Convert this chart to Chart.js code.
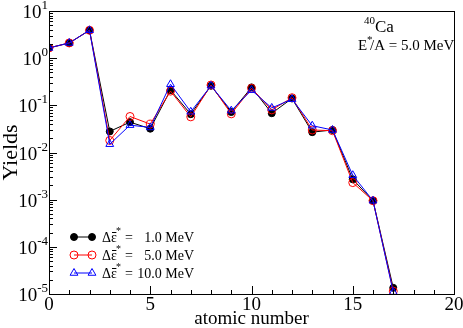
<!DOCTYPE html>
<html>
<head>
<meta charset="utf-8">
<script src="https://cdn.jsdelivr.net/npm/chart.js@4/dist/chart.umd.min.js"></script>
<style>
html, body { margin: 0; padding: 0; background: #fff; }
</style>
</head>
<body>
<canvas id="chartYields" width="463" height="328"></canvas>
<script>
// data
var atomicNumbers = [0, 1, 2, 3, 4, 5, 6, 7, 8, 9, 10, 11, 12, 13, 14, 15, 16, 17];
var yields1 = [1.65, 2.1, 3.9, 0.028, 0.044, 0.032, 0.21, 0.065, 0.26, 0.072, 0.24, 0.068, 0.14, 0.027, 0.030, 0.0027, 0.00095, 1.35e-5];
var yields5 = [1.65, 2.1, 3.9, 0.018, 0.058, 0.040, 0.20, 0.057, 0.27, 0.066, 0.23, 0.080, 0.145, 0.030, 0.029, 0.0023, 0.00095, 1.15e-5];
var yields10 = [1.65, 2.1, 3.9, 0.015, 0.038, 0.034, 0.28, 0.073, 0.26, 0.077, 0.21, 0.088, 0.135, 0.037, 0.030, 0.0033, 0.00095, 1.1e-5];
var seriesValues = ['1.0 MeV', '5.0 MeV', '10.0 MeV'];
var xTickLabels = [0, 5, 10, 15, 20];
var yExponents = [1, 0, -1, -2, -3, -4, -5];

var SERIF = '"Liberation Serif", "DejaVu Serif", serif';

function toPoints(vals) {
    return atomicNumbers.map((z, i) => ({ x: z, y: vals[i] }));
}

// draws the frame, inward ticks, labels and the text boxes
var decorPlugin = {
    id: 'decor',
    afterDraw: function (chart) {
        var ctx = chart.ctx;
        var a = chart.chartArea;
        var xs = chart.scales.x;
        var ys = chart.scales.y;
        ctx.save();
        ctx.strokeStyle = '#000';
        ctx.fillStyle = '#000';
        ctx.lineWidth = 1;
        ctx.strokeRect(a.left + 0.5, a.top + 0.5, a.right - a.left, a.bottom - a.top);

        // x ticks (inward)
        ctx.beginPath();
        for (var v = 0; v <= 20; v++) {
            var px = Math.round(xs.getPixelForValue(v)) + 0.5;
            var len = (v % 5 === 0) ? 8 : 4;
            ctx.moveTo(px, a.bottom);
            ctx.lineTo(px, a.bottom - len);
        }
        // y ticks (inward)
        for (var k = -5; k <= 1; k++) {
            for (var m = 1; m <= 9; m++) {
                var val = m * Math.pow(10, k);
                if (val > 10.0001) break;
                var py = Math.round(ys.getPixelForValue(val)) + 0.5;
                var l2 = (m === 1) ? 8 : 4;
                ctx.moveTo(a.left, py);
                ctx.lineTo(a.left + l2, py);
            }
        }
        ctx.stroke();

        // x tick labels
        ctx.font = '19px ' + SERIF;
        ctx.textAlign = 'center';
        ctx.textBaseline = 'alphabetic';
        xTickLabels.forEach(function (t) {
            ctx.fillText(String(t), xs.getPixelForValue(t), a.bottom + 16);
        });

        // y tick labels 10^n
        yExponents.forEach(function (e) {
            var py = ys.getPixelForValue(Math.pow(10, e));
            var expText = e < 0 ? '-' + Math.abs(e) : String(e);
            ctx.font = '13px ' + SERIF;
            var ew = ctx.measureText(expText).width;
            ctx.textAlign = 'right';
            ctx.fillText(expText, a.left - 1, py - 2);
            ctx.font = '19px ' + SERIF;
            ctx.fillText('10', a.left - 1 - ew, py + 7);
        });

        // axis titles
        ctx.font = '19px ' + SERIF;
        ctx.textAlign = 'center';
        ctx.fillText('atomic number', (a.left + a.right) / 2, 324);
        ctx.save();
        ctx.translate(17, (a.top + a.bottom) / 2);
        ctx.rotate(-Math.PI / 2);
        ctx.font = '22px ' + SERIF;
        ctx.fillText('Yields', 0, 0);
        ctx.restore();

        // nucleus annotation
        ctx.textAlign = 'left';
        ctx.font = '11px ' + SERIF;
        ctx.fillText('40', 364, 24);
        ctx.font = '17px ' + SERIF;
        ctx.fillText('Ca', 375, 32);
        ctx.font = '15px ' + SERIF;
        ctx.fillText('E', 358, 50);
        ctx.font = '11px ' + SERIF;
        ctx.fillText('*', 367, 43);
        ctx.font = '15px ' + SERIF;
        ctx.fillText('/A = 5.0 MeV', 370, 50);

        // legend
        var rows = [237, 255, 273];
        chart.data.datasets.forEach(function (ds, i) {
            var y = rows[i];
            ctx.strokeStyle = ds.borderColor;
            ctx.lineWidth = 1;
            ctx.beginPath();
            ctx.moveTo(74, y);
            ctx.lineTo(92, y);
            ctx.stroke();
            [74, 92].forEach(function (mx) {
                ctx.fillStyle = ds.pointBackgroundColor;
                ctx.strokeStyle = ds.borderColor;
                Chart.helpers.drawPoint(ctx, {
                    pointStyle: ds.pointStyle,
                    radius: ds.pointRadius,
                    borderWidth: 1,
                    rotation: 0
                }, mx, y);
            });
            ctx.fillStyle = '#000';
            ctx.textAlign = 'left';
            ctx.font = '14px ' + SERIF;
            ctx.fillText('\u0394\u03b5', 102, y + 5);
            var dw = ctx.measureText('\u0394').width;
            var ew2 = ctx.measureText('\u03b5').width;
            ctx.strokeStyle = '#000';
            ctx.beginPath();
            ctx.moveTo(102 + dw + 1, y - 4.5);
            ctx.lineTo(102 + dw + ew2 - 0.5, y - 4.5);
            ctx.stroke();
            ctx.font = '10px ' + SERIF;
            ctx.fillText('*', 102 + dw + ew2 - 1, y - 3);
            ctx.font = '14px ' + SERIF;
            ctx.fillText('=', 125, y + 5);
            ctx.textAlign = 'right';
            ctx.fillText(seriesValues[i], 194, y + 5);
        });
        ctx.restore();
    }
};

var ctx = document.getElementById('chartYields').getContext('2d');
var chartYields = new Chart(ctx, {
    type: 'line',
    data: {
        datasets: [{
            label: seriesValues[0],
            data: toPoints(yields1),
            borderColor: '#000000',
            pointBackgroundColor: '#000000',
            pointStyle: 'circle',
            pointRadius: 3.5,
            order: 2
        }, {
            label: seriesValues[1],
            data: toPoints(yields5),
            borderColor: '#ff0000',
            pointBackgroundColor: 'rgba(255,255,255,0)',
            pointStyle: 'circle',
            pointRadius: 4,
            order: 1
        }, {
            label: seriesValues[2],
            data: toPoints(yields10),
            borderColor: '#0000ff',
            pointBackgroundColor: 'rgba(255,255,255,0)',
            pointStyle: 'triangle',
            pointRadius: 4.5,
            order: 0
        }]
    },
    options: {
        responsive: false,
        animation: false,
        events: [],
        elements: {
            line: { borderWidth: 1, tension: 0 },
            point: { borderWidth: 1 }
        },
        layout: { padding: { top: 11, right: 9, left: 0, bottom: 0 } },
        plugins: {
            legend: { display: false },
            tooltip: { enabled: false }
        },
        scales: {
            x: {
                type: 'linear',
                min: 0,
                max: 20,
                ticks: { display: false },
                grid: { display: false },
                border: { display: false },
                afterFit: function (s) { s.height = 34; }
            },
            y: {
                type: 'logarithmic',
                min: 1e-5,
                max: 10,
                ticks: { display: false },
                grid: { display: false },
                border: { display: false },
                afterFit: function (s) { s.width = 49; }
            }
        }
    },
    plugins: [decorPlugin]
});
</script>
</body>
</html>
